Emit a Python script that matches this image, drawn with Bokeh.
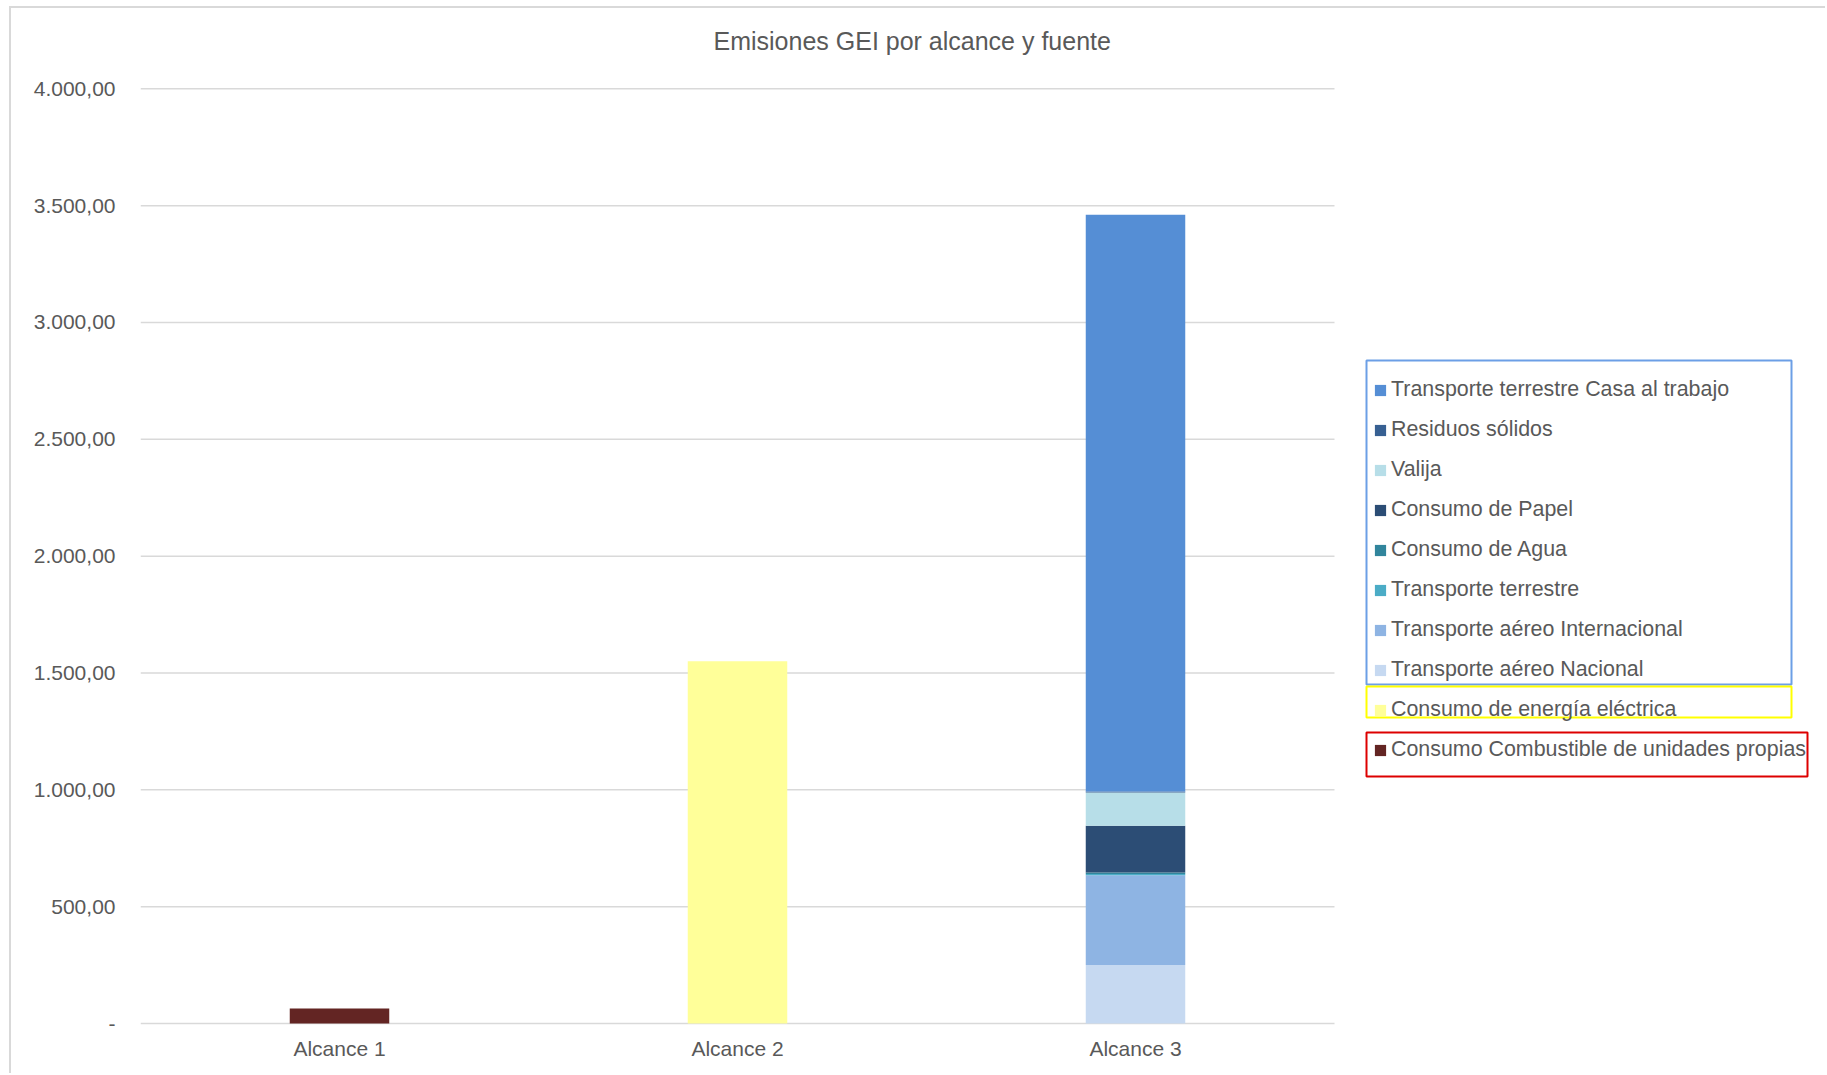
from bokeh.plotting import figure
from bokeh.models import (ColumnDataSource, Legend, LegendItem, FixedTicker,
                          BoxAnnotation, Range1d)
from bokeh.embed import file_html
from bokeh.resources import INLINE

# ---------------- data ----------------
categories = ["Alcance 1", "Alcance 2", "Alcance 3"]

# stacked from bottom to top
series_keys = ["combustible", "energia", "aereo_nacional", "aereo_internacional",
               "terrestre", "agua", "papel", "valija", "residuos", "casa_trabajo"]
series_labels = [
    "Consumo Combustible de unidades propias",
    "Consumo de energía eléctrica",
    "Transporte aéreo Nacional",
    "Transporte aéreo Internacional",
    "Transporte terrestre",
    "Consumo de Agua",
    "Consumo de Papel",
    "Valija",
    "Residuos sólidos",
    "Transporte terrestre Casa al trabajo",
]
combustible = [64, 0, 0]
energia = [0, 1550, 0]
aereo_nacional = [0, 0, 250]
aereo_internacional = [0, 0, 384]
terrestre = [0, 0, 6]
agua = [0, 0, 6]
papel = [0, 0, 200]
valija = [0, 0, 143]
residuos = [0, 0, 4]
casa_trabajo = [0, 0, 2468]

series_colors = ["#632523", "#FFFF99", "#C6D9F1", "#8EB4E3", "#4BACC6",
                 "#31859C", "#2C4D75", "#B7DEE8", "#376092", "#558ED5"]

y_ticks = [0, 500, 1000, 1500, 2000, 2500, 3000, 3500, 4000]
y_tick_labels = ["-", "500,00", "1.000,00", "1.500,00", "2.000,00",
                 "2.500,00", "3.000,00", "3.500,00", "4.000,00"]

title_text = "Emisiones GEI por alcance y fuente"

# ---------------- layout constants (page pixels) ----------------
FONT = "Liberation Sans"
TXT = "#595959"
GRID = "#D9D9D9"

PAGE_W, PAGE_H = 1827, 1075
OX, OY = 11, 8                  # canvas origin inside the page (after outer border)
PLOT_L, PLOT_R = 140, 1334      # category area
ZERO_Y, TOP_Y = 1023, 88.3      # pixel of 0 and of 4000
FRAME_T, FRAME_B = 60, 1035

n = len(categories)
px_per_x = (PLOT_R - PLOT_L) / n
px_per_y = (ZERO_Y - TOP_Y) / y_ticks[-1]

def dx(px):
    return (px - PLOT_L) / px_per_x

def dy(py):
    return (ZERO_Y - py) / px_per_y

x_pos = [i + 0.5 for i in range(n)]

data = dict(x=x_pos, combustible=combustible, energia=energia,
            aereo_nacional=aereo_nacional, aereo_internacional=aereo_internacional,
            terrestre=terrestre, agua=agua, papel=papel, valija=valija,
            residuos=residuos, casa_trabajo=casa_trabajo)
source = ColumnDataSource(data=data)

p = figure(x_range=Range1d(0, dx(PAGE_W)), y_range=Range1d(dy(FRAME_B), dy(FRAME_T)),
           width=PAGE_W - OX, height=PAGE_H - OY,
           output_backend="svg", toolbar_location=None,
           min_border_left=PLOT_L - OX, min_border_right=0,
           min_border_top=FRAME_T - OY, min_border_bottom=PAGE_H - FRAME_B,
           margin=(OY - 2, 0, 0, OX - 2),
           styles={"border-top": "2px solid #D9D9D9",
                   "border-left": "2px solid #D9D9D9"},
           title=title_text)

# horizontal gridlines limited to the category area
p.segment(x0=[0] * len(y_ticks), x1=[n] * len(y_ticks), y0=y_ticks, y1=y_ticks,
          line_color=GRID, line_width=1.5)

renderers = p.vbar_stack(series_keys, x="x", width=0.25, source=source,
                         fill_color=series_colors, line_color=None)

p.title.text_font = FONT
p.title.text_font_size = "25px"
p.title.text_font_style = "normal"
p.title.text_color = TXT
p.title.align = "left"
p.title.offset = 573
p.title.standoff = 11

p.outline_line_color = None
p.background_fill_color = "white"
p.border_fill_color = "white"

p.xgrid.grid_line_color = None
p.ygrid.grid_line_color = None
p.xaxis.ticker = FixedTicker(ticks=x_pos)
p.xaxis.major_label_overrides = dict(zip(x_pos, categories))
p.yaxis.ticker = FixedTicker(ticks=y_ticks)
p.yaxis.major_label_overrides = dict(zip(y_ticks, y_tick_labels))

for ax in (p.xaxis[0], p.yaxis[0]):
    ax.axis_line_color = None
    ax.major_tick_line_color = None
    ax.minor_tick_line_color = None
    ax.major_tick_out = 0
    ax.major_tick_in = 0
    ax.major_label_text_font = FONT
    ax.major_label_text_font_size = "21px"
    ax.major_label_text_color = TXT
p.yaxis.major_label_standoff = 25
p.xaxis.major_label_standoff = 1

# ---------------- legend ----------------
items = [LegendItem(label=lab, renderers=[r])
         for lab, r in reversed(list(zip(series_labels, renderers)))]
legend = Legend(items=items, location=(1233, FRAME_B - 762), orientation="vertical",
                padding=0, margin=0, spacing=15, glyph_width=14, glyph_height=14,
                label_standoff=4, label_height=24,
                label_text_font=FONT, label_text_font_size="21.4px",
                label_text_color=TXT, background_fill_alpha=0,
                border_line_color=None)
p.add_layout(legend)

def group_box(left, right, top, bottom, color):
    return BoxAnnotation(left=dx(left), right=dx(right), top=dy(top), bottom=dy(bottom),
                         fill_alpha=0, line_color=color, line_alpha=1, line_width=2)

p.add_layout(group_box(1366, 1791, 360, 684, "#6C9FE6"))
p.add_layout(group_box(1366, 1791, 686, 717, "#FFFF00"))
p.add_layout(group_box(1366, 1807, 732, 776, "#DD0000"))

open("out.html", "w").write(file_html(p, INLINE))
